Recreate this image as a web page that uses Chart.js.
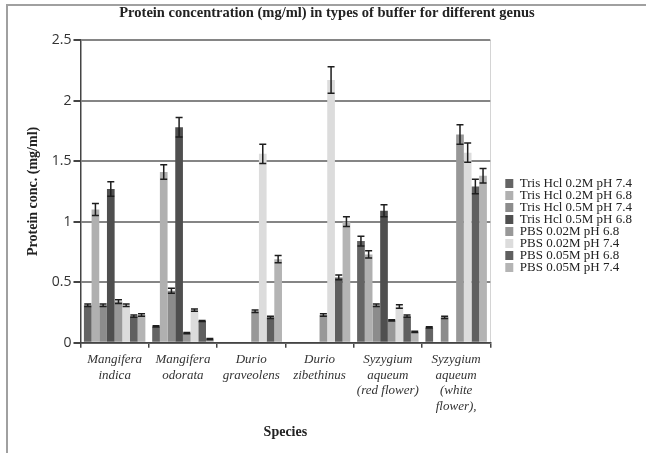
<!DOCTYPE html>
<html>
<head>
<meta charset="utf-8">
<script src="https://cdn.jsdelivr.net/npm/chart.js"></script>
<style>
  body { margin: 0; background: #fff; }
  canvas { display: block; }
</style>
</head>
<body>
<canvas id="myChart" width="646" height="453"></canvas>

<script>
  // species on the x axis (multi-line labels)
  const species = [
    ['Mangifera', 'indica'],
    ['Mangifera', 'odorata'],
    ['Durio', 'graveolens'],
    ['Durio', 'zibethinus'],
    ['Syzygium', 'aqueum', '(red flower)'],
    ['Syzygium', 'aqueum', '(white', 'flower),']
  ];

  const buffers = [
    'Tris Hcl 0.2M pH 7.4',
    'Tris Hcl 0.2M pH 6.8',
    'Tris Hcl 0.5M pH 7.4',
    'Tris Hcl 0.5M pH 6.8',
    'PBS 0.02M pH 6.8',
    'PBS 0.02M pH 7.4',
    'PBS 0.05M pH 6.8',
    'PBS 0.05M pH 7.4'
  ];

  // protein conc. (mg/ml), one array per buffer
  const tris02_74 = [0.31, 0.135, 0, 0, 0.84, 0.127];
  const tris02_68 = [1.10, 1.41, 0, 0, 0.73, 0];
  const tris05_74 = [0.31, 0.43, 0, 0, 0.31, 0.21];
  const tris05_68 = [1.27, 1.78, 0, 0, 1.09, 0];
  const pbs002_68 = [0.34, 0.08, 0.26, 0.23, 0.185, 1.72];
  const pbs002_74 = [0.31, 0.27, 1.56, 2.17, 0.30, 1.57];
  const pbs005_68 = [0.22, 0.18, 0.21, 0.54, 0.22, 1.29];
  const pbs005_74 = [0.23, 0.03, 0.69, 1.00, 0.09, 1.38];

  // error (+/-)
  const err_tris02_74 = [0.01, 0.005, 0, 0, 0.04, 0.005];
  const err_tris02_68 = [0.05, 0.06, 0, 0, 0.03, 0];
  const err_tris05_74 = [0.01, 0.02, 0, 0, 0.01, 0.01];
  const err_tris05_68 = [0.06, 0.08, 0, 0, 0.05, 0];
  const err_pbs002_68 = [0.015, 0.005, 0.01, 0.01, 0.005, 0.08];
  const err_pbs002_74 = [0.01, 0.01, 0.08, 0.11, 0.015, 0.08];
  const err_pbs005_68 = [0.01, 0.005, 0.01, 0.02, 0.01, 0.06];
  const err_pbs005_74 = [0.01, 0.005, 0.03, 0.04, 0.005, 0.06];

  const yTicks = [0, 0.5, 1, 1.5, 2, 2.5];

  const values = [tris02_74, tris02_68, tris05_74, tris05_68, pbs002_68, pbs002_74, pbs005_68, pbs005_74];
  const errors = [err_tris02_74, err_tris02_68, err_tris05_74, err_tris05_68, err_pbs002_68, err_pbs002_74, err_pbs005_68, err_pbs005_74];

  const colors = ['#646464', '#b0b0b0', '#8c8c8c', '#4f4f4f', '#989898', '#dcdcdc', '#5f5f5f', '#b4b4b4'];

  const serif = "'Liberation Serif', 'Times New Roman', serif";

  // white background + grey frame at top/left, faint line on plot's right side
  const framePlugin = {
    id: 'frame',
    beforeDraw(chart) {
      const c = chart.ctx;
      const a = chart.chartArea;
      c.save();
      c.fillStyle = '#fff';
      c.fillRect(0, 0, chart.width, chart.height);
      c.strokeStyle = '#a0a0a0';
      c.lineWidth = 2;
      c.beginPath();
      c.moveTo(7, 453);
      c.lineTo(7, 5);
      c.lineTo(646, 5);
      c.stroke();
      c.strokeStyle = '#d4d4d4';
      c.lineWidth = 1;
      c.beginPath();
      c.moveTo(Math.round(a.right) + 0.5, a.top);
      c.lineTo(Math.round(a.right) + 0.5, a.bottom);
      c.stroke();
      c.restore();
    }
  };

  const errorBars = {
    id: 'errorBars',
    afterDatasetsDraw(chart) {
      const c = chart.ctx;
      const y = chart.scales.y;
      c.save();
      c.strokeStyle = '#1e1e1e';
      c.lineWidth = 1.5;
      values.forEach((vals, i) => {
        const meta = chart.getDatasetMeta(i);
        meta.data.forEach((bar, j) => {
          const e = errors[i][j];
          if (!e) return;
          const top = y.getPixelForValue(vals[j] + e);
          const bot = y.getPixelForValue(vals[j] - e);
          const x = bar.x;
          c.beginPath();
          c.moveTo(x, top); c.lineTo(x, bot);
          c.moveTo(x - 3.5, top); c.lineTo(x + 3.5, top);
          c.moveTo(x - 3.5, bot); c.lineTo(x + 3.5, bot);
          c.stroke();
        });
      });
      c.restore();
    }
  };

  var ctx = document.getElementById('myChart').getContext('2d');
  var myChart = new Chart(ctx, {
    type: 'bar',
    data: {
      labels: species,
      datasets: buffers.map((name, i) => ({
        label: name,
        data: values[i],
        backgroundColor: colors[i],
        borderWidth: 0,
        categoryPercentage: 0.9,
        barPercentage: 1.0
      }))
    },
    options: {
      responsive: false,
      animation: false,
      layout: { padding: { left: 12, right: 4, top: 0, bottom: 0 } },
      scales: {
        x: {
          grid: { drawOnChartArea: false, offset: true, tickLength: 5, tickColor: '#444', lineWidth: 1.5 },
          border: { color: '#444', width: 1.5 },
          ticks: {
            autoSkip: false, maxRotation: 0, padding: 4,
            color: '#333',
            font: { family: serif, size: 13, style: 'italic', lineHeight: 1.2 }
          },
          title: {
            display: true, text: 'Species', color: '#222',
            font: { family: serif, size: 14, weight: 'bold' },
            padding: { top: 6, bottom: 12 }
          }
        },
        y: {
          min: 0, max: 2.5,
          afterBuildTicks: s => { s.ticks = yTicks.map(v => ({ value: v })); },
          grid: { color: '#858585', lineWidth: 2, tickLength: 7, tickColor: '#444' },
          border: { color: '#444', width: 1.5 },
          ticks: {
            padding: 2, color: '#333',
            callback: v => String(v),
            font: { family: "'Open Sans', sans-serif", size: 14 }
          },
          title: {
            display: true, text: 'Protein conc. (mg/ml)', color: '#222',
            font: { family: serif, size: 14, weight: 'bold' },
            padding: { top: 13, bottom: 8 }
          }
        },
        // hidden spacer between plot and legend
        y2: {
          position: 'right',
          display: false,
          afterFit: s => { s.width = 15; }
        }
      },
      plugins: {
        title: {
          display: true,
          text: 'Protein concentration (mg/ml) in types of buffer for different genus',
          color: '#222',
          font: { family: serif, size: 14.5, weight: 'bold', lineHeight: 1.2 },
          padding: { top: 5, bottom: 17.6 }
        },
        legend: {
          position: 'right',
          align: 'start',
          fullSize: false,
          title: { display: true, text: '', padding: { top: 120, bottom: 3.6 }, font: { size: 12, lineHeight: 1.2 } },
          labels: {
            boxWidth: 9, boxHeight: 9, padding: -1,
            color: '#222',
            font: { family: serif, size: 13 }
          }
        },
        tooltip: { enabled: false }
      }
    },
    plugins: [framePlugin, errorBars]
  });
</script>
</body>
</html>
